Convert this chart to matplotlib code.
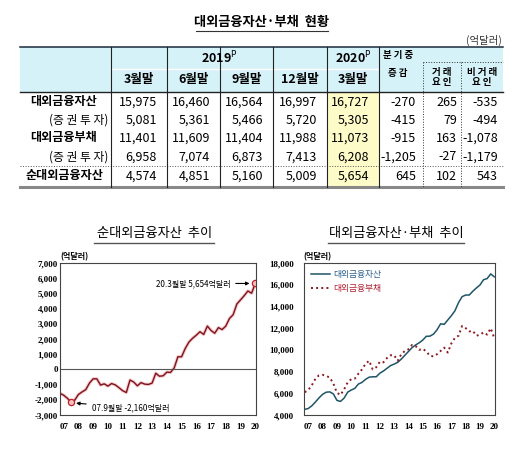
import matplotlib
matplotlib.use("Agg")
import matplotlib.pyplot as plt
from matplotlib.patches import Rectangle

plt.rcParams['font.family'] = ['Noto Sans CJK KR', 'DejaVu Sans']

# ---- table data ----
col_labels = ['3월말', '6월말', '9월말', '12월말', '3월말']
row_labels = ['대외금융자산', '(증 권 투 자)', '대외금융부채', '(증 권 투 자)', '순대외금융자산']
row_bold = [True, False, True, False, True]
table_vals = [
    ['15,975', '16,460', '16,564', '16,997', '16,727', '-270', '265', '-535'],
    ['5,081', '5,361', '5,466', '5,720', '5,305', '-415', '79', '-494'],
    ['11,401', '11,609', '11,404', '11,988', '11,073', '-915', '163', '-1,078'],
    ['6,958', '7,074', '6,873', '7,413', '6,208', '-1,205', '-27', '-1,179'],
    ['4,574', '4,851', '5,160', '5,009', '5,654', '645', '102', '543'],
]

# ---- chart data (quarterly, 2006Q4 .. 2020Q1) ----
years = [2006 + 9 / 12 + i / 4 for i in range(54)]
net_assets = [-1575, -1700, -1900, -2160, -2020, -1650, -1480, -1330, -900, -620,
              -620, -1030, -950, -1100, -930, -1020, -1200, -1400, -1520, -700,
              -830, -1080, -870, -970, -990, -900, -250, -450, -420, -180,
              -200, 100, 830, 830, 1380, 1800, 2050, 2250, 2480, 2300,
              2850, 2560, 2380, 2750, 2620, 2850, 3350, 3600, 4300, 4574,
              4851, 5160, 5009, 5654]
assets = [4520, 4600, 4850, 5200, 5580, 5900, 6100, 6130, 5950, 5350,
          5250, 5550, 6100, 6300, 6450, 6850, 7000, 7280, 7480, 7520,
          7520, 7850, 8050, 8300, 8550, 8690, 8850, 9150, 9500, 9850,
          10200, 10450, 10650, 10900, 11250, 11260, 11450, 11850, 12400, 12350,
          12750, 13150, 13600, 14350, 14900, 15050, 15050, 15400, 15700, 15975,
          16460, 16564, 16997, 16727]
liabilities = [6100, 6300, 6750, 7350, 7650, 7700, 7600, 7450, 6900, 6050,
               5850, 6350, 7000, 7300, 7350, 7800, 8200, 8700, 9000, 8200,
               8400, 8900, 8850, 9250, 9500, 9500, 9000, 9600, 9900, 10050,
               10450, 10350, 10000, 10100, 9850, 9450, 9400, 9600, 9900, 10200,
               9750, 10600, 11100, 11300, 12200, 12000, 11700, 11750, 11300, 11401,
               11609, 11404, 11988, 11073]

fig = plt.figure(figsize=(5.18, 4.63), dpi=100)

# overlay axes in pixel coordinates for the table
tb = fig.add_axes([0, 0, 1, 1])
tb.set_xlim(0, 518)
tb.set_ylim(463, 0)
tb.axis('off')

tb.text(262, 22, '대외금융자산·부채  현황', ha='center', va='center', fontsize=9.5, fontweight='bold')
tb.plot([196, 328], [31, 31], color='#333333', lw=0.8)
tb.text(502, 40, '(억달러)', ha='right', va='center', fontsize=7.5, color='#333333')

edges = [20, 111, 167, 220, 273, 327, 379, 423, 461, 503]
head_top, head_mid, head_bot, tab_bot = 47, 69, 92, 187
row_y = [102, 120, 138, 157, 176]

tb.add_patch(Rectangle((edges[0], head_top), edges[-1] - edges[0], head_bot - head_top,
                       facecolor='#d6f2f9', edgecolor='none'))
tb.add_patch(Rectangle((edges[5], head_bot), edges[6] - edges[5], tab_bot - head_bot,
                       facecolor='#fdfbc8', edgecolor='none'))
tb.plot([edges[0], edges[-1]], [head_top, head_top], color='#1a2a3a', lw=1.1)
tb.plot([edges[0], edges[-1]], [head_bot, head_bot], color='#222222', lw=1)
tb.plot([edges[1], edges[6]], [head_mid, head_mid], color='white', lw=1)
tb.plot([edges[7], edges[-1]], [62, 62], color='#333333', lw=0.7, ls=':')
tb.plot([edges[0], edges[-1]], [166, 166], color='#555555', lw=0.7, ls=':')
tb.plot([edges[0], edges[-1]], [tab_bot, tab_bot], color='#888888', lw=2.2)
for x in edges[1:7]:
    tb.plot([x, x], [head_top, tab_bot], color='#222222', lw=0.8)
tb.plot([edges[7], edges[7]], [62, tab_bot], color='#333333', lw=0.7, ls=':')
tb.plot([edges[8], edges[8]], [62, tab_bot], color='#333333', lw=0.7, ls=':')

tb.text((edges[1] + edges[5]) / 2, 58, r'2019$^{\mathrm{P}}$', ha='center', va='center',
        fontsize=9, fontweight='bold')
tb.text((edges[5] + edges[6]) / 2, 58, r'2020$^{\mathrm{P}}$', ha='center', va='center',
        fontsize=9, fontweight='bold')
for i, lab in enumerate(col_labels):
    tb.text((edges[i + 1] + edges[i + 2]) / 2, 80, lab, ha='center', va='center',
            fontsize=9, fontweight='bold')
tb.text(398, 55, '분 기 중', ha='center', va='center', fontsize=6.8, fontweight='bold')
tb.text(398, 73, '증 감', ha='center', va='center', fontsize=6.8, fontweight='bold')
tb.text(442, 77, '거 래\n요 인', ha='center', va='center', fontsize=6.8, fontweight='bold',
        linespacing=1.1)
tb.text(482, 77, '비 거 래\n요 인', ha='center', va='center', fontsize=6.8, fontweight='bold',
        linespacing=1.1)

pads = [10, 10, 10, 10, 10, 7, 4, 5]
for r, (lab, vals) in enumerate(zip(row_labels, table_vals)):
    y = row_y[r]
    if row_bold[r]:
        tb.text(64, y, lab, ha='center', va='center', fontsize=8.7, fontweight='bold')
    else:
        tb.text(108, y, lab, ha='right', va='center', fontsize=8.5)
    for c, v in enumerate(vals):
        tb.text(edges[c + 2] - pads[c], y, v, ha='right', va='center', fontsize=9)

# ---- chart titles ----
tb.text(155, 234, '순대외금융자산  추이', ha='center', va='center', fontsize=9.5, fontweight='medium')
tb.plot([94, 214], [243, 243], color='#555555', lw=1)
tb.text(396, 234, '대외금융자산·부채  추이', ha='center', va='center', fontsize=9.5, fontweight='medium')
tb.plot([328, 464], [243, 243], color='#555555', lw=1)

tick_font = dict(family='Liberation Serif', weight='bold', size=6.5)
year_ticks = list(range(2007, 2021))
year_labels = ['%02d' % (y % 100) for y in year_ticks]

# ---- left chart: net assets ----
ax1 = fig.add_axes([60 / 518, 1 - 415 / 463, 196 / 518, 152 / 463])
ax1.plot(years, net_assets, color='#f0a0a0', lw=2.4, alpha=0.6)
ax1.plot(years, net_assets, color='#7a1420', lw=1)
ax1.axhline(0, color='#555555', lw=0.8)
ax1.plot([years[3], years[-1]], [net_assets[3], net_assets[-1]], 'o', ms=4.5,
         mfc='#f4c0c0', mec='#c0202a', mew=0.9)
ax1.set_xlim(years[0], years[-1] + 0.05)
ax1.set_ylim(-3000, 7000)
ax1.set_yticks(range(-3000, 7001, 1000))
ax1.set_yticklabels(['{:,}'.format(v) for v in range(-3000, 7001, 1000)], fontdict=tick_font)
ax1.set_xticks(year_ticks)
ax1.set_xticklabels(year_labels, fontdict=tick_font)
ax1.tick_params(length=0, pad=1.5)
ax1.tick_params(axis='x', pad=6)
for s in ax1.spines.values():
    s.set_color('#444444')
    s.set_linewidth(0.8)
ax1.annotate('07.9월말 -2,160억달러', xy=(years[3] + 0.15, net_assets[3] - 50),
             xytext=(2008.9, -2500), fontsize=5.8, va='center', ha='left',
             arrowprops=dict(arrowstyle='-|>', color='black', lw=0.8, mutation_scale=5))
ax1.annotate('20.3월말 5,654억달러', xy=(years[-1] - 0.2, net_assets[-1]),
             xytext=(2018.3, net_assets[-1]), fontsize=5.8, va='center', ha='right',
             arrowprops=dict(arrowstyle='-|>', color='black', lw=0.8, mutation_scale=5))
tb.text(60, 257, '(억달러)', ha='left', va='center', fontsize=5.8, fontweight='bold')

# ---- right chart: assets and liabilities ----
ax2 = fig.add_axes([304 / 518, 1 - 415 / 463, 191 / 518, 152 / 463])
ax2.plot(years, assets, color='#1e5566', lw=1.1, label='대외금융자산')
ax2.plot(years, liabilities, color='#8a1a22', lw=1.4, ls=':', label='대외금융부채')
ax2.set_xlim(years[0] - 0.05, years[-1] + 0.05)
ax2.set_ylim(4000, 18000)
ax2.set_yticks(range(4000, 18001, 2000))
ax2.set_yticklabels(['{:,}'.format(v) for v in range(4000, 18001, 2000)], fontdict=tick_font)
ax2.set_xticks(year_ticks)
ax2.set_xticklabels(year_labels, fontdict=tick_font)
ax2.tick_params(length=0, pad=7)
ax2.tick_params(axis='x', pad=6)
for s in ax2.spines.values():
    s.set_color('#444444')
    s.set_linewidth(0.8)
leg = ax2.legend(loc='upper left', frameon=False, fontsize=6.3, handlelength=2.2,
                 handletextpad=0.3, labelspacing=0.6, borderaxespad=0.4)
for txt, col in zip(leg.get_texts(), ['#2a5f8a', '#b02030']):
    txt.set_color(col)
tb.text(303, 257, '(억달러)', ha='left', va='center', fontsize=5.8, fontweight='bold')

fig.savefig('out.png', dpi=100)
